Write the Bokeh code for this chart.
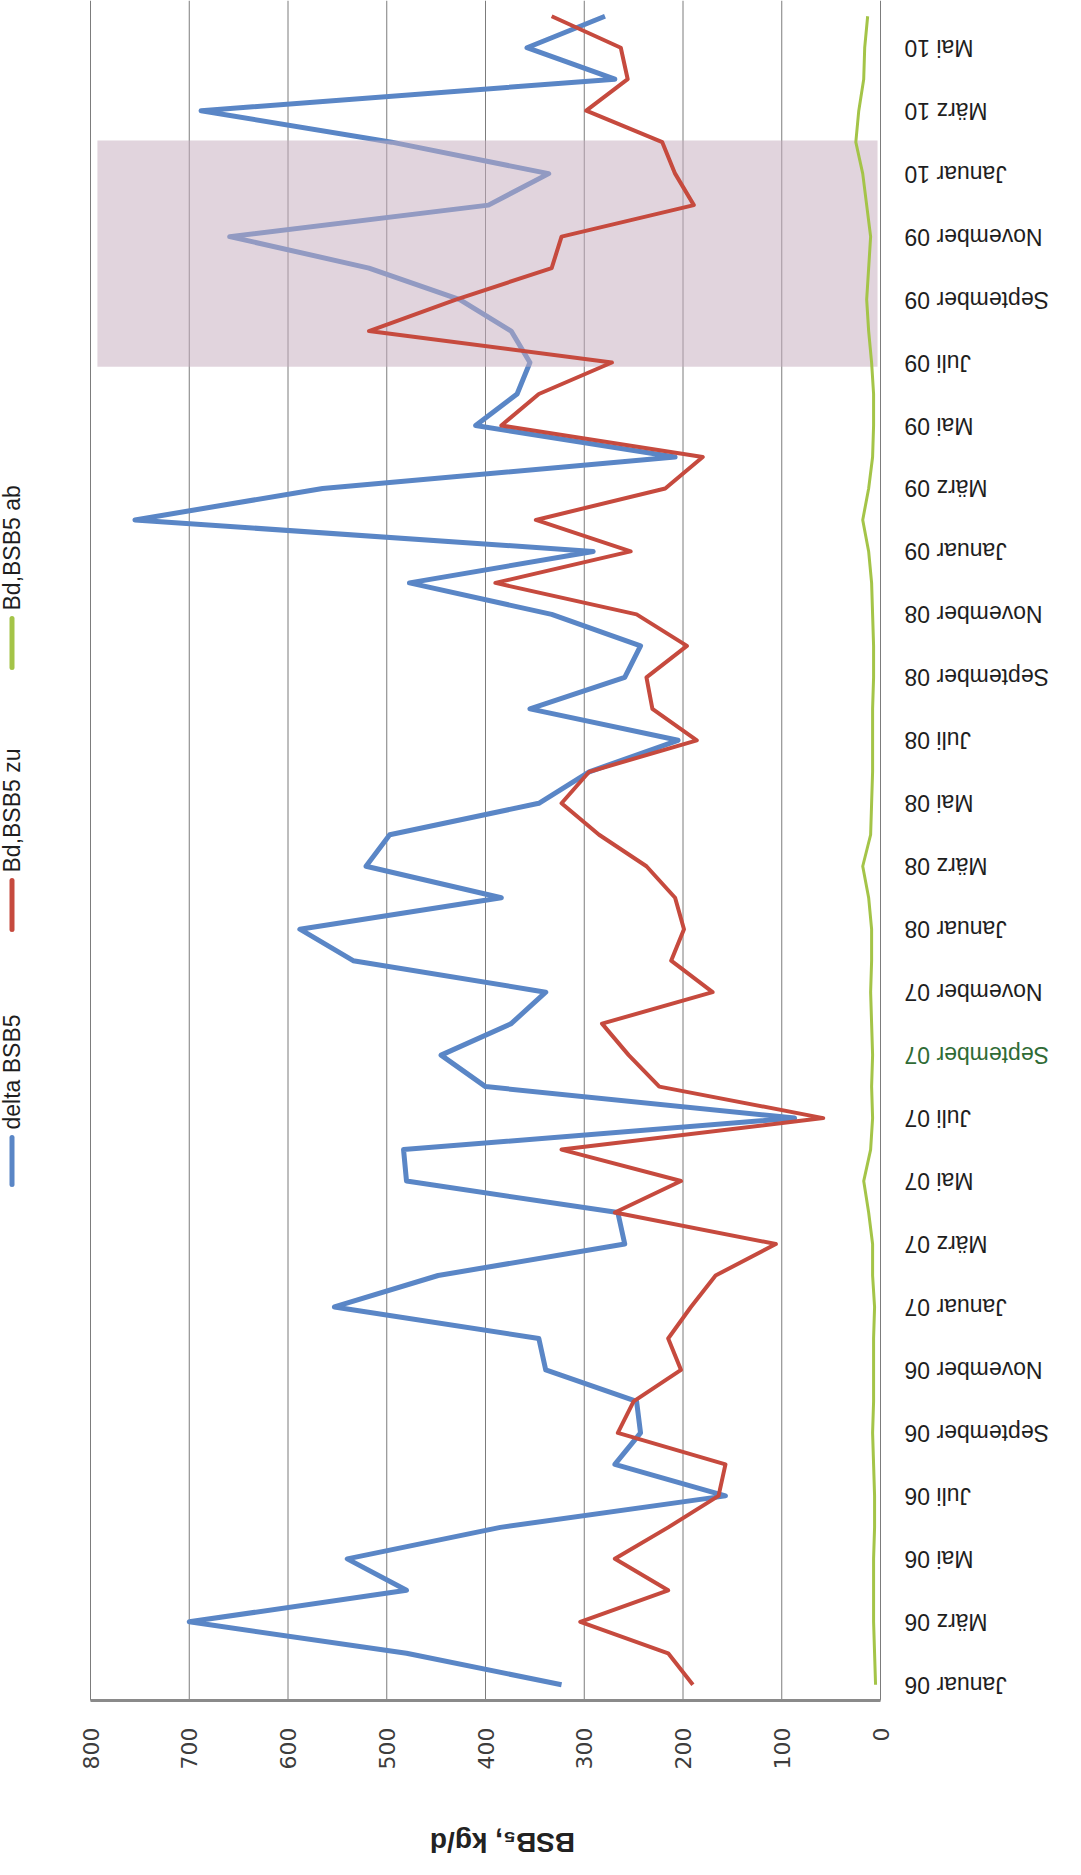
import math
from bokeh.plotting import figure
from bokeh.models import Range1d, FixedTicker
from bokeh.core.properties import value
from bokeh.embed import file_html
from bokeh.resources import INLINE

# ---------------- data ----------------
month_names = ["Januar", "Februar", "März", "April", "Mai", "Juni",
               "Juli", "August", "September", "Oktober", "November", "Dezember"]
years = ["06", "07", "08", "09", "10"]
months = [f"{m} {y}" for y in years for m in month_names][:54]   # Jan 06 .. Jun 10
month_idx = list(range(len(months)))
month_tick_idx = list(range(0, 53, 2))                           # every 2nd month labelled
month_tick_labels = [months[i] for i in month_tick_idx]

delta_bsb5 = [323, 480, 700, 480, 540, 385, 157, 269, 243, 247, 339, 346,
              553, 448, 259, 266, 480, 483, 87, 400, 445, 374, 339, 534,
              588, 384, 521, 497, 346, 295, 205, 355, 259, 243, 333, 477,
              291, 755, 565, 208, 410, 368, 355, 374, 426, 518, 659, 397,
              336, 495, 688, 269, 358, 279]
bd_bsb5_zu = [190, 215, 304, 215, 269, 215, 164, 157, 266, 250, 202, 215,
              192, 167, 106, 269, 202, 323, 58, 224, 255, 282, 170, 212,
              199, 208, 237, 285, 323, 295, 186, 231, 237, 196, 247, 390,
              253, 349, 218, 180, 384, 346, 272, 518, 430, 333, 323, 189,
              208, 221, 298, 256, 263, 333]
bd_bsb5_ab = [5, 6, 7, 7, 7, 6, 6, 7, 8, 7, 7, 7,
              6, 8, 8, 12, 17, 10, 8, 9, 8, 9, 10, 9,
              9, 12, 18, 10, 9, 8, 8, 8, 7, 7, 8, 9,
              12, 18, 12, 8, 7, 7, 9, 12, 14, 12, 10, 14,
              18, 25, 22, 17, 16, 13]
value_ticks = [0, 100, 200, 300, 400, 500, 600, 700, 800]
series_names = ["delta BSB5", "Bd,BSB5 zu", "Bd,BSB5 ab"]
axis_title = "BSB₅, kg/d"
highlight_months = (41.87, 49.05)      # shaded period (month index)
highlight_values = (3, 793)

# ---------------- geometry ----------------
BLUE, RED, GREEN = "#5a86c6", "#c64a3e", "#a4c448"
W, H = 1065, 1859
PL, PR, PB = 90, 880, 1700          # plot-area left / right / bottom (canvas px)
VMAX = 800
NM = len(months)
SX = VMAX / (PR - PL)               # value units per px
SY = NM / PB                        # month units per px
XL = VMAX + PL * SX
XR = XL - W * SX
YT = NM - 0.5
YB = YT - H * SY


def dx(px):
    return XL - px * SX


def dy(py):
    return YT - py * SY


p = figure(width=W, height=H, output_backend="svg", toolbar_location=None,
           x_range=Range1d(XL, XR), y_range=Range1d(YB, YT),
           x_axis_location="below", y_axis_location=None,
           min_border=0, min_border_left=0, min_border_right=0,
           min_border_top=0, min_border_bottom=0)
p.outline_line_color = None
p.background_fill_color = "white"
p.border_fill_color = "white"
p.xgrid.visible = False
p.ygrid.visible = False

# value axis (bottom, at the lower edge of the plot area)
xa = p.xaxis[0]
xa.fixed_location = -0.5
xa.bounds = (0, VMAX)
xa.ticker = FixedTicker(ticks=value_ticks)
xa.major_label_orientation = math.pi / 2
xa.major_tick_out = 0
xa.major_tick_in = 0
xa.minor_tick_out = 0
xa.minor_tick_in = 0
xa.major_label_standoff = 27
xa.axis_line_color = "#8a8a8a"
xa.axis_line_width = 3
xa.major_label_text_font = "DejaVu Sans"
xa.major_label_text_font_size = "22px"
xa.major_label_text_color = "#3c3c3c"

# vertical grid lines
p.segment(x0=value_ticks, y0=[-0.5] * len(value_ticks),
          x1=value_ticks, y1=[YT] * len(value_ticks),
          line_color="#7c7c7c", line_width=1)

# series
p.line(delta_bsb5, month_idx, line_color=BLUE, line_width=5, line_join="round")
p.quad(left=[highlight_values[1]], right=[highlight_values[0]],
       bottom=[highlight_months[0]], top=[highlight_months[1]],
       fill_color="#c5adbd", fill_alpha=0.52, line_color=None)
p.line(bd_bsb5_zu, month_idx, line_color=RED, line_width=4, line_join="round")
p.line(bd_bsb5_ab, month_idx, line_color=GREEN, line_width=3, line_join="round")

# month labels right of the plot area (upside down, left-aligned in the picture)
label_colors = ["#2f6b35" if lab == "September 07" else "#1e1e1e" for lab in month_tick_labels]
p.text(x=[dx(PR + 24)] * len(month_tick_idx), y=month_tick_idx, text=month_tick_labels,
       angle=math.pi, text_align="right", text_baseline="middle",
       text_font=value("Liberation Sans"), text_font_size="23px",
       text_color=label_colors)

# legend (rotated, left of plot area)
leg_cx = 11.5
leg_top = [1137, 880, 618]
leg_bot = [1184, 929, 667]
p.segment(x0=[dx(leg_cx)] * 3, y0=[dy(v) for v in leg_top],
          x1=[dx(leg_cx)] * 3, y1=[dy(v) for v in leg_bot],
          line_color=[BLUE, RED, GREEN], line_width=5, line_cap="round")
p.text(x=[dx(leg_cx)] * 3, y=[dy(v - 8) for v in leg_top], text=series_names,
       angle=math.pi / 2, text_align="left", text_baseline="middle",
       text_font=value("Liberation Sans"), text_font_size="23px",
       text_color="#1e1e1e")

# axis title (upside down)
p.text(x=[dx(502)], y=[dy(1842)], text=[axis_title], angle=math.pi,
       text_align="center", text_baseline="middle",
       text_font=value("Liberation Sans"), text_font_size="28px",
       text_font_style="bold", text_color="#222222")

open("out.html", "w").write(file_html(p, INLINE))
